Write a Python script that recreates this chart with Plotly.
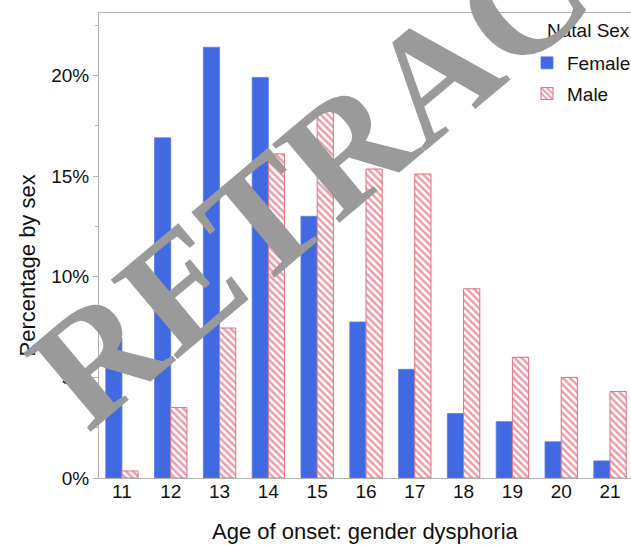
import plotly.graph_objects as go

ages = [11, 12, 13, 14, 15, 16, 17, 18, 19, 20, 21]
female_pct = [6.95, 16.9, 21.4, 19.9, 13.0, 7.75, 5.4, 3.2, 2.8, 1.8, 0.85]
male_pct = [0.35, 3.5, 7.45, 16.1, 18.3, 15.35, 15.1, 9.4, 6.0, 5.0, 4.3]
y_ticks = [0, 5, 10, 15, 20]
y_ticktext = ["0%", "5%", "10%", "15%", "20%"]

FONT = "Liberation Sans, Arial, Helvetica, sans-serif"
AXIS_GREY = "#b3b3b3"

fig = go.Figure()
fig.add_trace(go.Bar(
    x=ages, y=female_pct, name="Female", legendgroup="f",
    marker=dict(color="#4169e1", line=dict(color="#5b7fe6", width=0.8)),
))
fig.add_trace(go.Bar(
    x=ages, y=male_pct, name="Male", legendgroup="m",
    marker=dict(
        color="white",
        line=dict(color="#e0707f", width=1),
        pattern=dict(shape="\\", fgcolor="#d93a55", bgcolor="white",
                     size=5, solidity=0.5),
    ),
))

fig.update_layout(
    width=631, height=545,
    margin=dict(l=99, r=0, t=13, b=67, autoexpand=False),
    paper_bgcolor="white", plot_bgcolor="white",
    barmode="group", bargap=0.336, bargroupgap=0,
    font=dict(family=FONT, size=19, color="#111111"),
    showlegend=True,
    legend=dict(
        x=1.0 + 5 / 532, xanchor="right", y=(478 - 44) / 465, yanchor="top",
        bgcolor="rgba(0,0,0,0)",
        font=dict(size=19),
        itemwidth=30, tracegroupgap=3,
    ),
    xaxis=dict(
        range=[10.53, 21.43], tickmode="array", tickvals=ages,
        ticktext=[str(a) for a in ages],
        showline=True, linecolor=AXIS_GREY, linewidth=1, mirror=True,
        ticks="", ticklabelstandoff=-4,
        showgrid=False, zeroline=False,
        tickfont=dict(size=19),
    ),
    yaxis=dict(
        range=[0, 23.1], tickmode="array", tickvals=y_ticks, ticktext=y_ticktext,
        showline=True, linecolor=AXIS_GREY, linewidth=1,
        ticks="outside", ticklen=5, tickcolor=AXIS_GREY,
        minor=dict(dtick=2.5, ticks="outside", ticklen=3, tickcolor=AXIS_GREY),
        showgrid=False, zeroline=False,
        tickfont=dict(size=19),
    ),
)

fig.add_annotation(
    text="Natal Sex", xref="paper", yref="paper",
    x=(545 - 99) / 532, y=(478 - 31) / 465, xanchor="left", yanchor="middle",
    showarrow=False, font=dict(size=19, family=FONT),
)
fig.add_annotation(
    text="Age of onset: gender dysphoria", xref="paper", yref="paper",
    x=0.5, y=-(531 - 478) / 465, xanchor="center", yanchor="middle",
    showarrow=False, font=dict(size=22, family=FONT),
)
fig.add_annotation(
    text="Percentage by sex", xref="paper", yref="paper",
    x=(27 - 99) / 532, y=(478 - 265.5) / 465, xanchor="center", yanchor="middle",
    textangle=-90, showarrow=False, font=dict(size=22, family=FONT),
)
fig.add_annotation(
    text="<b>RETRACTED</b>", xref="paper", yref="paper",
    x=(433 - 99) / 532, y=(478 - 74) / 465, xanchor="center", yanchor="middle",
    textangle=-40, showarrow=False,
    font=dict(size=158, family="Liberation Serif, Times New Roman, serif", color="#9a9a9a"),
)

fig.write_html("out.html", config={"displayModeBar": False},
               post_script="document.body.style.margin='0';")
